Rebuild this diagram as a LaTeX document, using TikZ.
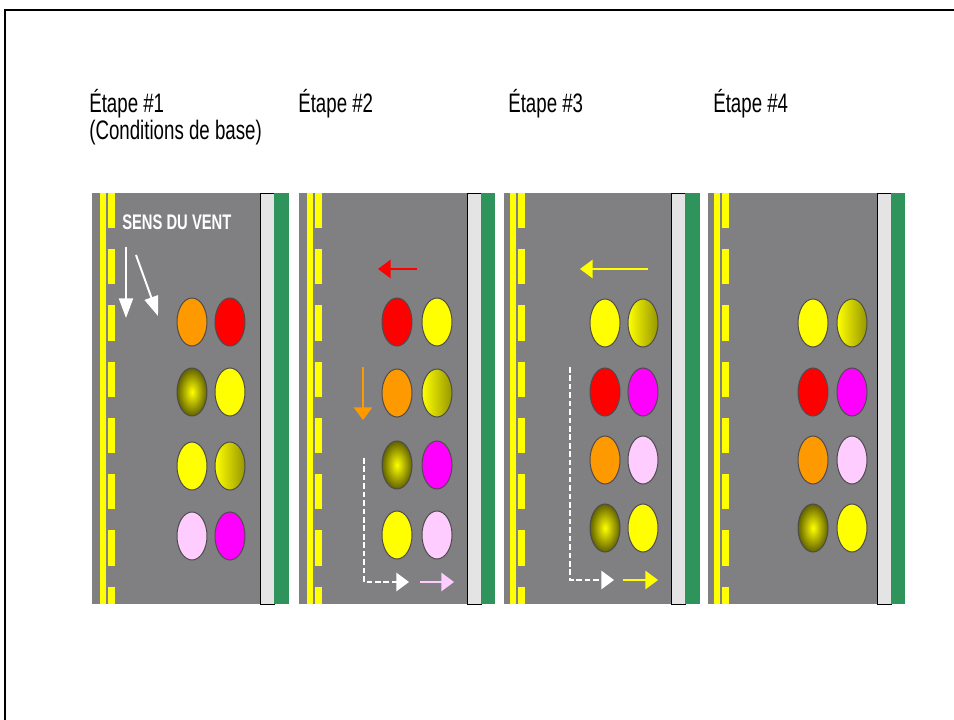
\documentclass[tikz,border=0pt]{standalone}
\usepackage{fontspec}
\newfontfamily\narrowfont[FakeStretch=0.7]{Liberation Sans}
\definecolor{roadgray}{RGB}{128,128,130}
\definecolor{lineyellow}{RGB}{255,255,0}
\definecolor{vergegreen}{RGB}{46,148,92}
\definecolor{stripgray}{RGB}{228,228,228}
\definecolor{carorange}{RGB}{255,153,0}
\definecolor{carred}{RGB}{255,0,0}
\definecolor{caryellow}{RGB}{255,255,0}
\definecolor{carolive}{RGB}{150,150,0}
\definecolor{carpink}{RGB}{255,204,255}
\definecolor{carmagenta}{RGB}{255,0,255}
\usetikzlibrary{shapes.geometric,arrows.meta}

\begin{document}
\begin{tikzpicture}[x=0.025cm,y=-0.025cm,
  road/.style={fill=roadgray},
  solidline/.style={draw=lineyellow,line width=3.6pt},
  laneline/.style={draw=lineyellow,line width=4.6pt,dash pattern=on 25pt off 15pt},
  strip/.style={fill=stripgray,draw=black,line width=0.7pt},
  verge/.style={fill=vergegreen},
  title/.style={anchor=base west,inner sep=0pt,font=\narrowfont\fontsize{19}{22}\selectfont},
  car/.style={ellipse,draw=black!70,line width=0.7pt,minimum width=0.75cm,minimum height=1.2cm,inner sep=0pt},
  olivedot/.style={car,shading=radial,inner color=caryellow,outer color=carolive!65!black},
  goldot/.style={car,left color=caryellow,right color=carolive},
  arrow/.style={-{Triangle[length=9pt,width=13pt]},line width=1.4pt},
  windarrow/.style={-{Triangle[length=14pt,width=10pt]},line width=1.4pt,white},
  track/.style={white,line width=1.1pt,dash pattern=on 4pt off 2pt}
]
\useasboundingbox (0,0) rectangle (954,720);
\draw[line width=1.5pt] (5,730) -- (5,10) -- (960,10);

% titles
\node[title] (t1) at (89,113) {Étape \#1};
\node[title] (t1b) at (89,140) {(Conditions de base)};
\node[title] (t2) at (298,113) {Étape \#2};
\node[title] (t3) at (508,113) {Étape \#3};
\node[title] (t4) at (713,113) {Étape \#4};

% roads
\fill[road] (92,193) rectangle (260,604);
\draw[solidline] (103,193) -- (103,604);
\draw[laneline] (111.5,193) -- (111.5,604);
\filldraw[strip] (260,193) rectangle (274,604);
\fill[verge] (274,193) rectangle (289,604);

\fill[road] (299,193) rectangle (467,604);
\draw[solidline] (310,193) -- (310,604);
\draw[laneline] (318.5,193) -- (318.5,604);
\filldraw[strip] (467,193) rectangle (481,604);
\fill[verge] (481,193) rectangle (495,604);

\fill[road] (504,193) rectangle (671,604);
\draw[solidline] (513,193) -- (513,604);
\draw[laneline] (521.5,193) -- (521.5,604);
\filldraw[strip] (671,193) rectangle (685,604);
\fill[verge] (685,193) rectangle (700,604);

\fill[road] (708,193) rectangle (877,604);
\draw[solidline] (717,193) -- (717,604);
\draw[laneline] (725.5,193) -- (725.5,604);
\filldraw[strip] (877,193) rectangle (891,604);
\fill[verge] (891,193) rectangle (905,604);

% step 1
\node[anchor=base west,inner sep=0pt,text=white,font=\narrowfont\bfseries\fontsize{15}{17}\selectfont] (wind) at (122,230) {SENS DU VENT};
\draw[windarrow] (126,247) -- (126,318);
\draw[windarrow] (136,255) -- (158,316);
\node[car,fill=carorange] (s1a) at (192,322) {};
\node[car,fill=carred] (s1b) at (230,322) {};
\node[olivedot] (s1c) at (192,392) {};
\node[car,fill=caryellow] (s1d) at (230,392) {};
\node[car,fill=caryellow] (s1e) at (192,466) {};
\node[goldot] (s1f) at (230,466) {};
\node[car,fill=carpink] (s1g) at (192,536) {};
\node[car,fill=carmagenta] (s1h) at (230,536) {};

% step 2
\draw[arrow,carred] (417,269) -- (378,269);
\draw[arrow,carorange] (363,367) -- (363,420);
\draw[track] (364,458) -- (364,582) -- (398,582);
\draw[arrow,white] (398,582) -- (409,582);
\draw[arrow,carpink] (420,582) -- (454,582);
\node[car,fill=carred] (s2a) at (397,322) {};
\node[car,fill=caryellow] (s2b) at (437,322) {};
\node[car,fill=carorange] (s2c) at (397,393) {};
\node[goldot] (s2d) at (437,393) {};
\node[olivedot] (s2e) at (397,465) {};
\node[car,fill=carmagenta] (s2f) at (437,465) {};
\node[car,fill=caryellow] (s2g) at (397,535) {};
\node[car,fill=carpink] (s2h) at (437,535) {};

% step 3
\draw[arrow,caryellow] (648,269) -- (580,269);
\draw[track] (570,367) -- (570,580) -- (603,580);
\draw[arrow,white] (603,580) -- (614,580);
\draw[arrow,caryellow] (623,580) -- (658,580);
\node[car,fill=caryellow] (s3a) at (605,323) {};
\node[goldot] (s3b) at (643,323) {};
\node[car,fill=carred] (s3c) at (605,392) {};
\node[car,fill=carmagenta] (s3d) at (643,392) {};
\node[car,fill=carorange] (s3e) at (605,460) {};
\node[car,fill=carpink] (s3f) at (643,460) {};
\node[olivedot] (s3g) at (605,528) {};
\node[car,fill=caryellow] (s3h) at (643,528) {};

% step 4
\node[car,fill=caryellow] (s4a) at (813,323) {};
\node[goldot] (s4b) at (852,323) {};
\node[car,fill=carred] (s4c) at (813,392) {};
\node[car,fill=carmagenta] (s4d) at (852,392) {};
\node[car,fill=carorange] (s4e) at (813,460) {};
\node[car,fill=carpink] (s4f) at (852,460) {};
\node[olivedot] (s4g) at (813,528) {};
\node[car,fill=caryellow] (s4h) at (852,528) {};
\end{tikzpicture}
\end{document}
